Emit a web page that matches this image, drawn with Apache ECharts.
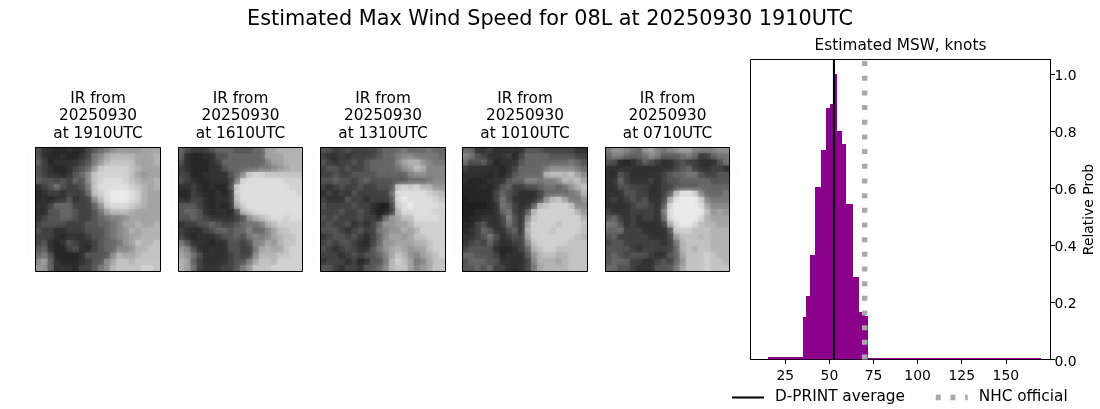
<!DOCTYPE html>
<html><head><meta charset="utf-8">
<style>html,body{margin:0;padding:0;background:#fff}#c{width:1100px;height:409px}</style>
<script src="https://cdn.jsdelivr.net/npm/echarts@6/dist/echarts.min.js"></script>
</head><body><div id="c"></div>
<script>
const figureTitle = 'Estimated Max Wind Speed for 08L at 20250930 1910UTC';
const histTitle = 'Estimated MSW, knots';
const yName = 'Relative Prob';
const irDate = '20250930';
const irTimes = ['1910','1610','1310','1010','0710'];
const xTicks = [25,50,75,100,125,150];
const yTicks = [0,0.2,0.4,0.6,0.8,1.0];
const binEdges = [15.2,35,36.7,39,41.8,45.2,48.1,50.3,52.6,54.3,57.1,59.4,63.4,66.8,70.2,71.9,170];
const binHeights = [0.01,0.148,0.224,0.367,0.605,0.735,0.882,0.893,1.0,0.798,0.753,0.543,0.29,0.166,0.154,0.005];
const dprintAverage = 52.6;
const nhcOfficial = 70;

// Brightness levels (hex digit per cell, 0 dark .. f bright)
const ir1910 = [
'53322322456789999aaa','53223223478abbbbaaab','64233334579bccccaaab','5432234569cddddcbaaa',
'543323568cdddddca9aa','655454658cdeeedcbaab','345754457ceeeeedcbab','234434446cdefffedbaa',
'2323353449cefffedbaa','33466644469deeedcbaa','32556654457acccbaaaa','345566544567889aaaaa',
'45555444556678aabaab','544334445556789babbb','444323334556789aabbb','453235433456679acbbc',
'5632245324566889bbcc','6752222355558baabccc','8a6322234558accbcccc','996333244578bccccddc'];
const ir1610 = [
'65444566655566aabbbb','63223355666666aaabbb','532223466666668aabbb','43222335666667789abb',
'44223333568cddcccccc','5432233347deeeeeeddd','334323224deeeeeeeedd','224322323deeeeeeeeed',
'324432333ceeeeeeeeee','555432323bdeeeeeeeee','5665323325cdeeeeeeee','556543333459bcdeedee',
'34455654456778bcdddd','433345665668668accdd','432333455657878abccd','75333233554588a9bccd',
'9853233355447abaacdd','a975333345448bbbccdd','ba6433334557accbdddd','ba7433344579cccddddd'];
const ir1310 = [
'55445444456667666766','43343444456678877776','5434454566668abb9877','45545445666679acb888',
'44544555566666899888','55655456555555666788','434544544555cdcdbb99','343435444446eeeeedcb',
'433354434445efeeeedc','544445443214defeeeed','444544543113beeeeedd','545444544269acceeeed',
'454453434699aabddddd','5554345447899babdddd','34554543468aa9accddd','454554324699aaabbcdd',
'54345433579aba9aacdd','44434545568acb98abcd','34443423557bdca78acc','55434435568bcca89acc'];
const ir1010 = [
'66334333335554444433','87543334246666555544','75564233356666666765','43333323466667888876',
'3333232356666bccbca8','3222333566887889cbca','222323564455677679bc','2222246543334666678b',
'12222475333348bca779','111123764335bcdddc88','11222367435bddddddb9','12233348538cdddddddb',
'2245334753addddcdddc','2346533563bdddcddddc','3345753454adddddddcb','34546433448cdddddccc',
'45555322346bcddccccc','665554233359bccbbccc','566655333348bbbabccc','556564432347abbbbccc'];
const ir0710 = [
'7998769a8789aa888899','68876679866678744677','55323465433454433357','33333333333456433443',
'32543333345667754455','33643334345566666555','33554443344555566666','33355443345beed86667',
'3434545334aefffd8777','3333455435dffffea888','4333444437efffffc9a9','5643434436effffebaaa',
'7753433334beffecbbaa','66744433335dddcccbbb','56444443334acccbcbbb','455444444347bccccbbb',
'555543444446bcbccbbb','565455543356acccdcbb','5666443345469cccdccb','665543335557acccdccc'];
const irPictures = [ir1910, ir1610, ir1310, ir1010, ir0710];
const levelGray = [28,34,42,52,68,86,104,120,136,150,165,180,195,210,222,235];

const font = 'DejaVu Sans';
const panelBoxes = [[35.5,147.5,125,124],[178.5,147.5,124,124],[320.5,147.5,125,124],[462.5,147.5,125,124],[605.5,147.5,124,124]];
const histBox = {left:750.5, top:59.5, width:300, height:300};

const grids=[], xAxes=[], yAxes=[], series=[], titles=[], graphics=[];
titles.push({text:figureTitle,left:550,top:9,padding:0,textAlign:'center',textStyle:{fontFamily:font,fontSize:20.8,fontWeight:'normal',color:'#000'}});
const idx = Array.from({length:20},(_,i)=>i);
irPictures.forEach((rows,p)=>{
  const [l,t,w,h]=panelBoxes[p];
  grids.push({left:l,top:t,width:w,height:h});
  xAxes.push({type:'category',gridIndex:p,data:idx,show:false});
  yAxes.push({type:'category',gridIndex:p,data:idx,inverse:true,show:false});
  const cells=[];
  rows.forEach((r,y)=>{for(let x=0;x<20;x++){const d=parseInt(r[x],16);const g=levelGray[d];const c=`rgb(${g},${g},${g})`;
    cells.push({value:[x,y,d],itemStyle:{color:c,shadowColor:c,shadowBlur:6}});}});
  series.push({type:'heatmap',xAxisIndex:p,yAxisIndex:p,data:cells,silent:true,progressive:0,emphasis:{disabled:true}});
  titles.push({text:`IR from\n${irDate}\nat ${irTimes[p]}UTC`,left:l+w/2,top:90,padding:0,textAlign:'center',
    textStyle:{fontFamily:font,fontSize:15.3,fontWeight:'normal',color:'#000',lineHeight:17.5}});
  graphics.push({type:'rect',z:99,silent:true,shape:{x:l-3.5,y:t-3.5,width:w+7,height:h+7},style:{fill:'none',stroke:'#fff',lineWidth:6}});
  graphics.push({type:'rect',z:100,silent:true,shape:{x:l,y:t,width:w,height:h},style:{fill:'none',stroke:'#000',lineWidth:1}});
});
const H=5;
grids.push({...histBox,show:true,borderColor:'#000',borderWidth:1,backgroundColor:'#fff'});
const tickCommon={show:true,length:4.5,lineStyle:{color:'#000',width:1}};
xAxes.push({type:'value',gridIndex:H,min:5.3,max:175.3,position:'bottom',
  splitLine:{show:false},axisLine:{show:true,onZero:false,lineStyle:{color:'#000',width:1}},
  axisTick:{...tickCommon,customValues:xTicks},
  axisLabel:{customValues:xTicks,fontFamily:font,fontSize:13.9,color:'#000',margin:10,formatter:v=>String(v)}});
yAxes.push({type:'value',gridIndex:H,min:0,max:1.05,position:'right',
  name:yName,nameLocation:'middle',nameRotate:90,nameGap:32,nameTextStyle:{fontFamily:font,fontSize:13.9,color:'#000'},
  splitLine:{show:false},axisLine:{show:true,onZero:false,lineStyle:{color:'#000',width:1}},
  axisTick:{...tickCommon,customValues:yTicks},
  axisLabel:{customValues:yTicks,fontFamily:font,fontSize:13.9,color:'#000',margin:4,verticalAlign:'top',lineHeight:5,formatter:v=>v.toFixed(1)}});
const bins=binHeights.map((h,i)=>[binEdges[i],binEdges[i+1],h]);
series.push({type:'custom',name:'hist',xAxisIndex:H,yAxisIndex:H,data:bins,clip:true,silent:true,z:2,
  encode:{x:[0,1],y:2},
  renderItem(params,api){
    const a=api.coord([api.value(0),api.value(2)]), b=api.coord([api.value(1),0]);
    const x0=Math.round(a[0]),x1=Math.round(b[0]),y0=Math.round(a[1]);
    return {type:'rect',shape:{x:x0,y:y0,width:x1-x0,height:b[1]-y0},style:{fill:'#8b008b',stroke:null}};
  }});
series.push({type:'line',name:'D-PRINT average',xAxisIndex:H,yAxisIndex:H,data:[[dprintAverage,0],[dprintAverage,1.05]],
  symbol:'none',silent:true,z:4,lineStyle:{color:'#000',width:2.1},itemStyle:{color:'#000'}});
series.push({type:'line',name:'NHC official',xAxisIndex:H,yAxisIndex:H,data:[[nhcOfficial,0],[nhcOfficial,1.05]],
  symbol:'none',silent:true,z:5,lineStyle:{color:'#a9a9a9',width:5.5,type:[5,9.67],cap:'butt'},itemStyle:{color:'#a9a9a9'}});
titles.push({text:histTitle,left:histBox.left+histBox.width/2,top:39,padding:0,textAlign:'center',textStyle:{fontFamily:font,fontSize:15.3,fontWeight:'normal',color:'#000'}});

const chart=echarts.init(document.getElementById('c'),null,{renderer:'canvas'});
chart.setOption({backgroundColor:'#fff',animation:false,title:titles,grid:grids,xAxis:xAxes,yAxis:yAxes,series,
  graphic:graphics,
  legend:{data:[{name:'D-PRINT average',lineStyle:{width:2.1}},{name:'NHC official',lineStyle:{width:5.5}}],
    left:731,top:390,padding:0,itemWidth:32,itemHeight:18,itemGap:28,itemStyle:{opacity:0},
    selectedMode:false,textStyle:{fontFamily:font,fontSize:15.3,color:'#000',padding:[0,0,0,6]}}
});
</script></body></html>
